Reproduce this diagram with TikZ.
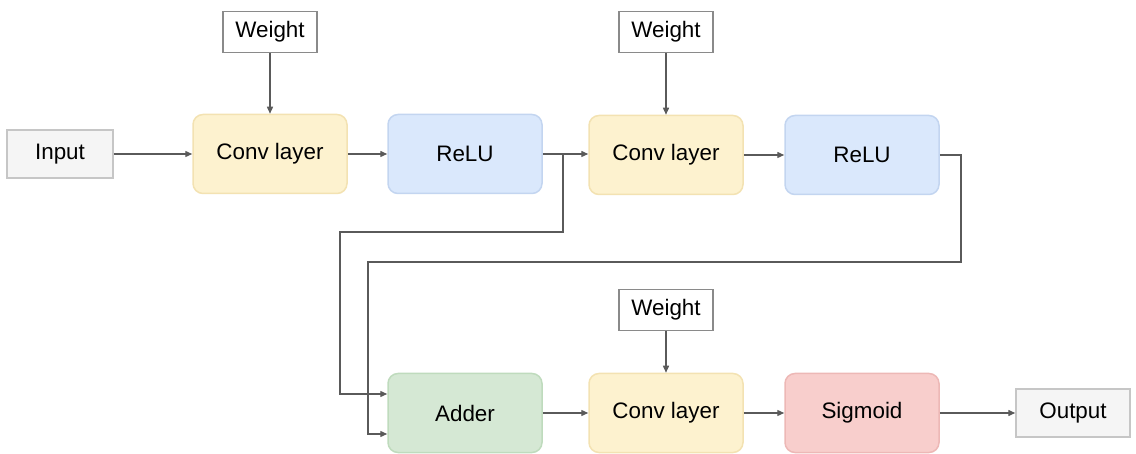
\documentclass[tikz,border=0pt]{standalone}
\usepackage{fontspec}
\setmainfont{Liberation Sans}
\usetikzlibrary{arrows.meta}
\definecolor{convfill}{HTML}{FDF2CF}
\definecolor{convdraw}{HTML}{F3E2B2}
\definecolor{relufill}{HTML}{DAE8FC}
\definecolor{reludraw}{HTML}{C3D5F0}
\definecolor{addfill}{HTML}{D5E8D4}
\definecolor{adddraw}{HTML}{BFDBBD}
\definecolor{sigfill}{HTML}{F8CECC}
\definecolor{sigdraw}{HTML}{EDB8B6}
\definecolor{iofill}{HTML}{F5F5F5}
\definecolor{iodraw}{HTML}{C6C6C6}
\definecolor{wdraw}{HTML}{8A8A8A}
\definecolor{linec}{HTML}{5A5A5A}
\tikzset{
  blk/.style={rounded corners=10pt, line width=1.5pt, minimum width=154pt, minimum height=79pt, inner sep=0pt, font=\fontsize{22.4}{26}\selectfont},
  convbox/.style={blk, fill=convfill, draw=convdraw},
  relubox/.style={blk, fill=relufill, draw=reludraw},
  addbox/.style={blk, fill=addfill, draw=adddraw},
  sigbox/.style={blk, fill=sigfill, draw=sigdraw},
  iobox/.style={fill=iofill, draw=iodraw, line width=1.5pt, minimum height=48pt, inner sep=0pt, font=\fontsize{22.4}{26}\selectfont},
  wbox/.style={fill=white, draw=wdraw, line width=1.5pt, minimum width=94pt, minimum height=41pt, inner sep=0pt, font=\fontsize{22.4}{26}\selectfont},
  conn/.style={draw=linec, line width=1.4pt, -{Triangle[length=7pt,width=6pt]}},
}
\begin{document}
\begin{tikzpicture}[x=1pt,y=-1pt]
\useasboundingbox (0,0) rectangle (1136,454);
\node[iobox, minimum width=106pt] (in) at (60,154) {Input};
\node[convbox] (c1) at (270,154) {Conv layer};
\node[relubox] (r1) at (465,154) {ReLU};
\node[convbox] (c2) at (666,155) {Conv layer};
\node[relubox] (r2) at (862,155) {ReLU};
\node[wbox] (w1) at (270,32) {Weight};
\node[wbox] (w2) at (666,32) {Weight};
\node[wbox] (w3) at (666,310) {Weight};
\node[addbox] (add) at (465,413) {Adder};
\node[convbox] (c3) at (666,413) {Conv layer};
\node[sigbox] (sig) at (862,413) {Sigmoid};
\node[iobox, minimum width=114pt] (out) at (1073,413) {Output};
\coordinate (j) at (563,154);
\draw[conn] (in) -- (c1);
\draw[conn] (w1) -- (c1);
\draw[conn] (c1) -- (r1);
\draw[conn] (r1.east) -- (c2.west |- r1.east);
\draw[conn] (w2) -- (c2);
\draw[conn] (c2) -- (r2);
\draw[conn] (j) -- (563,232) -- (340,232) -- (340,394) -- (add.west |- 0,394);
\draw[conn] (r2.east) -- (961,155) -- (961,262) -- (368,262) -- (368,434) -- (add.west |- 0,434);
\draw[conn] (add) -- (c3);
\draw[conn] (w3) -- (c3);
\draw[conn] (c3) -- (sig);
\draw[conn] (sig) -- (out);
\end{tikzpicture}
\end{document}
